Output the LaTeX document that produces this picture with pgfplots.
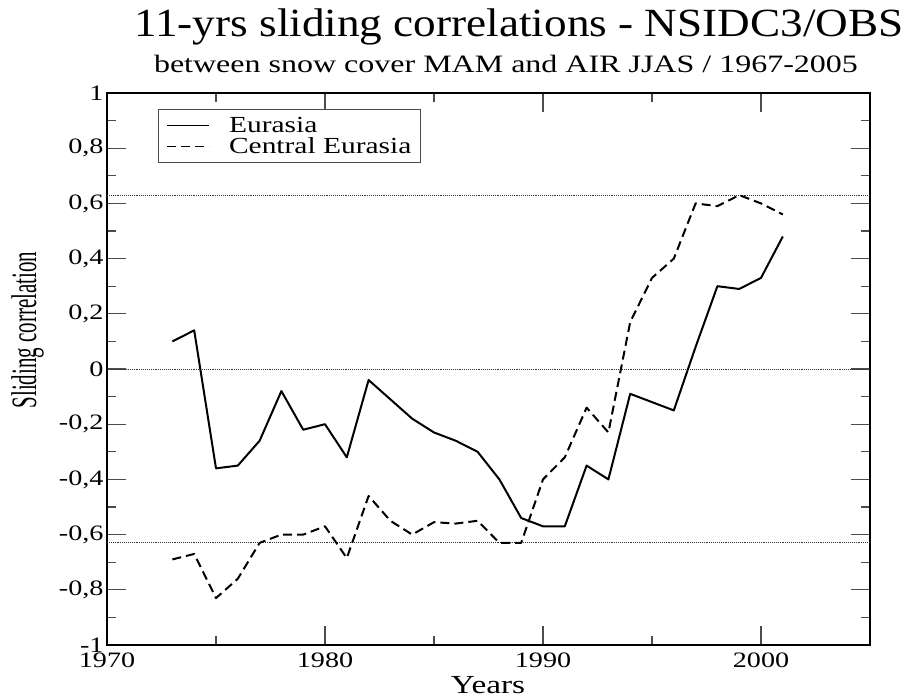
\documentclass[border=0pt]{standalone}
\usepackage{fontspec}
\setmainfont{Liberation Serif}
\usepackage{pgfplots}
\usepackage{pgfplotstable}
\pgfplotsset{compat=1.18}
\newcommand{\sx}[1]{\scalebox{1.28}[1]{#1}}

\pgfplotstableread{
year val
1973 0.10
1974 0.14
1975 -0.36
1976 -0.35
1977 -0.26
1978 -0.08
1979 -0.22
1980 -0.20
1981 -0.32
1982 -0.04
1983 -0.11
1984 -0.18
1985 -0.23
1986 -0.26
1987 -0.30
1988 -0.40
1989 -0.54
1990 -0.57
1991 -0.57
1992 -0.35
1993 -0.40
1994 -0.09
1995 -0.12
1996 -0.15
1997 0.08
1998 0.30
1999 0.29
2000 0.33
2001 0.48
}\eurasia

\pgfplotstableread{
year val
1973 -0.69
1974 -0.67
1975 -0.83
1976 -0.76
1977 -0.63
1978 -0.60
1979 -0.60
1980 -0.57
1981 -0.685
1982 -0.46
1983 -0.55
1984 -0.60
1985 -0.555
1986 -0.56
1987 -0.55
1988 -0.63
1989 -0.63
1990 -0.40
1991 -0.32
1992 -0.14
1993 -0.23
1994 0.17
1995 0.33
1996 0.40
1997 0.60
1998 0.59
1999 0.63
2000 0.60
2001 0.56
}\central

\begin{document}
\begin{tikzpicture}
\path[use as bounding box] (0pt,0pt) rectangle (911pt,-695pt);
\begin{axis}[
  at={(107pt,-645pt)}, anchor=south west,
  width=763pt, height=552pt, scale only axis,
  xmin=1970, xmax=2005, ymin=-1, ymax=1,
  xtick={1970,1980,1990,2000},
  xticklabels={\sx{1970},\sx{1980},\sx{1990},\sx{2000}},
  minor xtick={1975,1985,1995,2005},
  ytick={-1,-0.8,-0.6,-0.4,-0.2,0,0.2,0.4,0.6,0.8,1},
  yticklabels={\sx{-1},\sx{-0,8},\sx{-0,6},\sx{-0,4},\sx{-0,2},\sx{0},\sx{0,2},\sx{0,4},\sx{0,6},\sx{0,8},\sx{1}},
  minor ytick={-0.9,-0.7,-0.5,-0.3,-0.1,0.1,0.3,0.5,0.7,0.9},
  tick align=inside,
  major tick length=19pt, minor tick length=9pt,
  every tick/.style={black!70, line width=1.2pt},
  axis line style={line width=1.5pt},
  ticklabel style={font=\fontsize{22}{24}\selectfont},
  xticklabel style={yshift=-4pt},
  legend style={at={(0.0668,0.971)}, anchor=north west, draw=black!70, line width=1.2pt,
    font=\fontsize{23}{26}\selectfont, inner xsep=8pt, inner ysep=6pt,
    nodes={inner sep=1.5pt}, row sep=1pt, column sep=18pt},
  legend cell align=left,
  legend image code/.code={\draw[#1, line width=1pt] (0pt,0pt) -- (42pt,0pt);},
]
\addplot[densely dotted, line width=0.9pt, black!80, forget plot] coordinates {(1970,0.63) (2005,0.63)};
\addplot[densely dotted, line width=0.9pt, black!80, forget plot] coordinates {(1970,0) (2005,0)};
\addplot[densely dotted, line width=0.9pt, black!80, forget plot] coordinates {(1970,-0.63) (2005,-0.63)};
\addplot[black, line width=2pt, line join=round] table[x=year, y=val] {\eurasia};
\addlegendentry{\sx{Eurasia}}
\addplot[black, line width=2pt, line join=round, dash pattern=on 9pt off 5pt] table[x=year, y=val] {\central};
\addlegendentry{\sx{Central Eurasia}}
\end{axis}
\node[anchor=base, font=\fontsize{40}{42}\selectfont] at (519pt,-37pt) {\scalebox{1.13}[1]{11-yrs sliding correlations - NSIDC3/OBS}};
\node[anchor=base, font=\fontsize{25}{28}\selectfont] at (506pt,-73pt) {\sx{between snow cover MAM and AIR JJAS / 1967-2005}};
\node[anchor=base, font=\fontsize{26}{28}\selectfont] at (488pt,-693pt) {\sx{Years}};
\node[anchor=base, rotate=90, font=\fontsize{21}{22}\selectfont] at (36pt,-330pt) {\scalebox{1}[1.7]{Sliding correlation}};
\end{tikzpicture}
\end{document}
